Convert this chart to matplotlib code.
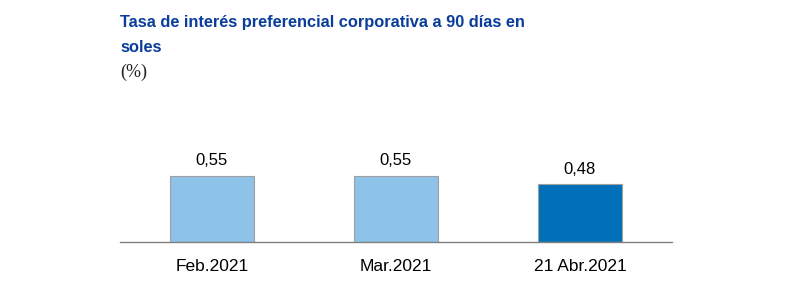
import matplotlib
matplotlib.use('Agg')
import matplotlib.pyplot as plt
import numpy as np

categories = ['Feb.2021', 'Mar.2021', '21 Abr.2021']
values = [0.55, 0.55, 0.48]
value_labels = ['0,55', '0,55', '0,48']
bar_colors = ['#8dc3e8', '#8dc3e8', '#0070b8']

plt.rcParams['font.family'] = ['Liberation Sans', 'DejaVu Sans']

fig = plt.figure(figsize=(8, 2.96), dpi=100)
# axes spans x 120..672 px, y 242 (baseline) .. 140 px
W, H = 800, 296
ax = fig.add_axes([120 / W, (H - 242) / H, 552 / W, 102 / H])

x = np.arange(len(categories))
ax.bar(x, values, width=0.46, color=bar_colors, edgecolor='#a0a0a0', linewidth=0.8, zorder=2)
for xi, v, lab in zip(x, values, value_labels):
    ax.text(xi, v + 0.065, lab, ha='center', va='bottom', fontsize=12, color='black')

ax.set_xlim(-0.5, 2.5)
ax.set_ylim(0, 102 / 120)
ax.set_yticks([])
ax.set_xticks(x)
ax.set_xticklabels(categories, fontsize=12.5)
ax.tick_params(axis='x', length=0, pad=12)
for s in ['top', 'right', 'left']:
    ax.spines[s].set_visible(False)
ax.spines['bottom'].set_color('#808080')
ax.spines['bottom'].set_linewidth(1.0)

fig.text(120 / W, 1 - 23 / H, 'Tasa de interés preferencial corporativa a 90 días en',
         fontsize=11.8, fontweight='bold', color='#0a3d9c', va='center', ha='left')
fig.text(120 / W, 1 - 47 / H, 'soles',
         fontsize=11.8, fontweight='bold', color='#0a3d9c', va='center', ha='left')
fig.text(120 / W, 1 - 72 / H, '(%)', fontsize=13, family=['Liberation Serif', 'DejaVu Serif'],
         color='#222222', va='center', ha='left')

fig.savefig('out.png', dpi=100)
